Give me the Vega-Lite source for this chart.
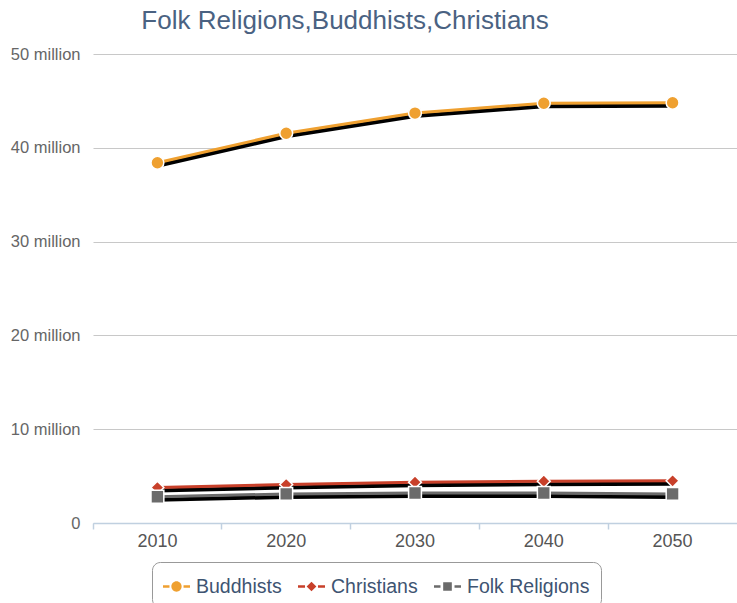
{
  "$schema": "https://vega.github.io/schema/vega-lite/v6.json",
  "width": 644,
  "height": 469,
  "padding": {"left": 10, "top": 8, "right": 0, "bottom": 0},
  "background": "white",
  "title": {
    "text": "Folk Religions,Buddhists,Christians",
    "anchor": "start",
    "dx": 131,
    "offset": 12,
    "font": "Liberation Sans",
    "fontSize": 26,
    "fontWeight": "normal",
    "color": "#4A6282"
  },
  "config": {
    "view": {"stroke": null},
    "font": "Liberation Sans"
  },
  "data": {
    "values": [
      {"year": "2010", "religion": "Buddhists", "value": 38410000},
      {"year": "2020", "religion": "Buddhists", "value": 41550000},
      {"year": "2030", "religion": "Buddhists", "value": 43700000},
      {"year": "2040", "religion": "Buddhists", "value": 44750000},
      {"year": "2050", "religion": "Buddhists", "value": 44800000},
      {"year": "2010", "religion": "Christians", "value": 3780000},
      {"year": "2020", "religion": "Christians", "value": 4100000},
      {"year": "2030", "religion": "Christians", "value": 4350000},
      {"year": "2040", "religion": "Christians", "value": 4450000},
      {"year": "2050", "religion": "Christians", "value": 4500000},
      {"year": "2010", "religion": "Folk Religions", "value": 2800000},
      {"year": "2020", "religion": "Folk Religions", "value": 3100000},
      {"year": "2030", "religion": "Folk Religions", "value": 3200000},
      {"year": "2040", "religion": "Folk Religions", "value": 3200000},
      {"year": "2050", "religion": "Folk Religions", "value": 3100000}
    ]
  },
  "encoding": {
    "x": {
      "field": "year",
      "type": "ordinal",
      "scale": {"type": "band", "paddingInner": 0, "paddingOuter": 0},
      "axis": null
    },
    "y": {
      "field": "value",
      "type": "quantitative",
      "scale": {"domain": [0, 50000000]},
      "axis": {
        "title": null,
        "values": [0, 10000000, 20000000, 30000000, 40000000, 50000000],
        "labelExpr": "datum.value == 0 ? '0' : (datum.value / 1000000) + ' million'",
        "domain": false,
        "ticks": false,
        "labelPadding": 13,
        "labelFontSize": 16.5,
        "labelColor": "#666666",
        "labelFont": "Liberation Sans",
        "gridColor": "#C8C8C8",
        "gridWidth": 1.2
      }
    },
    "color": {
      "field": "religion",
      "type": "nominal",
      "scale": {"domain": ["Buddhists", "Christians", "Folk Religions"], "range": ["#EFA030", "#C8402A", "#6B6B6B"]},
      "legend": null
    }
  },
  "layer": [
    {
      "mark": {"type": "line", "strokeWidth": 4, "yOffset": 3, "color": "#000000"},
      "encoding": {
        "color": {"value": "#000000"},
        "detail": {"field": "religion"},
        "x": {
          "field": "year",
          "type": "ordinal",
          "axis": {
            "orient": "bottom",
            "title": null,
            "labelAngle": 0,
            "labelFontSize": 18,
            "labelColor": "#555555",
            "labelPadding": 9,
            "ticks": false,
            "domainColor": "#C0D0E0",
            "domainWidth": 1.5,
            "grid": false
          }
        }
      }
    },
    {
      "mark": {"type": "line", "strokeWidth": 3},
      "encoding": {
        "x": {
          "field": "year",
          "type": "ordinal",
          "axis": {
            "orient": "bottom",
            "title": null,
            "labels": false,
            "domain": false,
            "ticks": true,
            "tickColor": "#C0D0E0",
            "tickWidth": 1.5,
            "tickSize": 6,
            "bandPosition": 0,
            "grid": false
          }
        }
      }
    },
    {
      "mark": {"type": "point", "filled": true, "size": 165, "stroke": "white", "strokeWidth": 1.5, "opacity": 1},
      "encoding": {
        "shape": {
          "field": "religion",
          "type": "nominal",
          "scale": {"domain": ["Buddhists", "Christians", "Folk Religions"], "range": ["circle", "diamond", "square"]},
          "legend": null
        }
      }
    },
    {
      "transform": [{"filter": "datum.value < 0"}],
      "mark": {"type": "point", "filled": true, "opacity": 1},
      "encoding": {
        "color": {
          "field": "religion",
          "type": "nominal",
          "legend": {
            "title": null,
            "orient": "none",
            "legendX": 59,
            "legendY": 508,
            "direction": "horizontal",
            "strokeColor": "#999999",
            "cornerRadius": 8,
            "padding": 11,
            "labelFontSize": 19.5,
            "labelColor": "#3E5472",
            "labelFont": "Liberation Sans",
            "symbolSize": 729,
            "symbolStrokeWidth": 0,
            "columnPadding": 16,
            "labelOffset": 6
          }
        },
        "shape": {
          "field": "religion",
          "type": "nominal",
          "scale": {
            "domain": ["Buddhists", "Christians", "Folk Religions"],
            "range": [
              "M-1,-0.09H-0.52V0.09H-1Z M0.52,-0.09H1V0.09H0.52Z M-0.38,0A0.38,0.38,0,1,0,0.38,0A0.38,0.38,0,1,0,-0.38,0Z",
              "M-1,-0.09H-0.48V0.09H-1Z M0.48,-0.09H1V0.09H0.48Z M0,-0.36L0.36,0L0,0.36L-0.36,0Z",
              "M-1,-0.09H-0.52V0.09H-1Z M0.52,-0.09H1V0.09H0.52Z M-0.32,-0.32H0.32V0.32H-0.32Z"
            ]
          },
          "legend": {
            "title": null,
            "orient": "none",
            "legendX": 59,
            "legendY": 508,
            "direction": "horizontal",
            "strokeColor": "#999999",
            "cornerRadius": 8,
            "padding": 11,
            "labelFontSize": 19.5,
            "labelColor": "#3E5472",
            "labelFont": "Liberation Sans",
            "symbolSize": 729,
            "symbolStrokeWidth": 0,
            "columnPadding": 16,
            "labelOffset": 6
          }
        }
      }
    }
  ],
  "resolve": {
    "scale": {"shape": "independent"},
    "axis": {"x": "independent"},
    "legend": {"shape": "independent", "color": "independent"}
  }
}
